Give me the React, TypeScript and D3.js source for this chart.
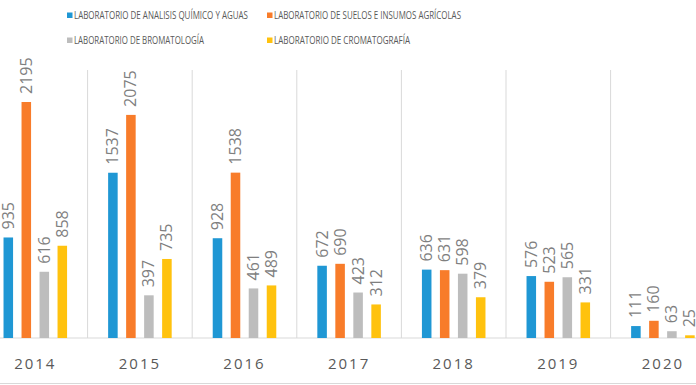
import React, { useEffect } from 'react';
import * as d3 from 'd3';

const years = ['2014', '2015', '2016', '2017', '2018', '2019', '2020'];
const seriesNames = [
  'LABORATORIO DE ANALISIS QUÍMICO Y AGUAS',
  'LABORATORIO DE SUELOS E INSUMOS AGRÍCOLAS',
  'LABORATORIO DE BROMATOLOGÍA',
  'LABORATORIO DE CROMATOGRAFÍA'
];
const quimicoAguas = [935, 1537, 928, 672, 636, 576, 111];
const suelosInsumos = [2195, 2075, 1538, 690, 631, 523, 160];
const bromatologia = [616, 397, 461, 423, 598, 565, 63];
const cromatografia = [858, 735, 489, 312, 379, 331, 25];

const seriesValues = [quimicoAguas, suelosInsumos, bromatologia, cromatografia];
const colors = ['#1f97d4', '#f87c2a', '#bdbdbd', '#ffc20e'];

const W = 696;
const H = 385;
const groupStep = 104.6;
const baseline = 338;

const legendPos = [
  { x: 67, y: 12.5, len: 174 },
  { x: 267, y: 12.5, len: 187 },
  { x: 67, y: 37.5, len: 130 },
  { x: 267, y: 37.5, len: 136 }
];

const font = '"Open Sans", "Liberation Sans", sans-serif';

export default function App() {
  useEffect(() => {
    document.body.style.margin = '0';
  }, []);

  const x = d3.scaleBand<string>()
    .domain(years)
    .range([-17, -17 + groupStep * years.length])
    .padding(0);

  const inner = d3.scaleBand<number>()
    .domain([0, 1, 2, 3])
    .range([0, x.bandwidth()])
    .paddingInner(0.47)
    .paddingOuter(1.14);

  const y = d3.scaleLinear().domain([0, 2195]).range([baseline, 102]);

  const gridXs = years.slice(1).map(yr => x(yr) as number);

  return (
    <svg width={W} height={H} style={{ display: 'block', position: 'absolute', left: 0, top: 0, background: '#fff' }}>
      {/* legend */}
      {seriesNames.map((name, i) => (
        <g key={name}>
          <rect x={legendPos[i].x} y={legendPos[i].y} width={5.5} height={5.5} fill={colors[i]} />
          <text
            x={legendPos[i].x + 7}
            y={legendPos[i].y + 6}
            textLength={legendPos[i].len}
            lengthAdjust="spacingAndGlyphs"
            fontFamily={font}
            fontSize={10}
            fill="#595959"
          >
            {name}
          </text>
        </g>
      ))}

      {/* vertical separators */}
      {gridXs.map(gx => (
        <line key={gx} x1={gx} x2={gx} y1={70} y2={baseline} stroke="#d9d9d9" strokeWidth={1} />
      ))}

      {/* baseline */}
      <line x1={0} x2={W} y1={baseline} y2={baseline} stroke="#d9d9d9" strokeWidth={1} />
      <line x1={0} x2={W} y1={H - 1.5} y2={H - 1.5} stroke="#d9d9d9" strokeWidth={1} />

      {/* bars + labels */}
      {years.map((yr, gi) => (
        <g key={yr} transform={`translate(${x(yr)},0)`}>
          {seriesValues.map((vals, si) => {
            const v = vals[gi];
            const bx = inner(si) as number;
            const bw = inner.bandwidth();
            const cx = bx + bw / 2;
            return (
              <g key={si}>
                <rect x={bx} y={y(v)} width={bw} height={baseline - y(v)} fill={colors[si]} />
                <text
                  transform={`translate(${cx + 5.5},${y(v) - 8}) rotate(-90)`}
                  fontFamily={font}
                  fontSize={16}
                  fill="#7f7f7f"
                >
                  {v}
                </text>
              </g>
            );
          })}
          <text
            x={x.bandwidth() / 2}
            y={369}
            textAnchor="middle"
            fontFamily={font}
            fontSize={15}
            letterSpacing={2}
            fill="#595959"
          >
            {yr}
          </text>
        </g>
      ))}
    </svg>
  );
}
